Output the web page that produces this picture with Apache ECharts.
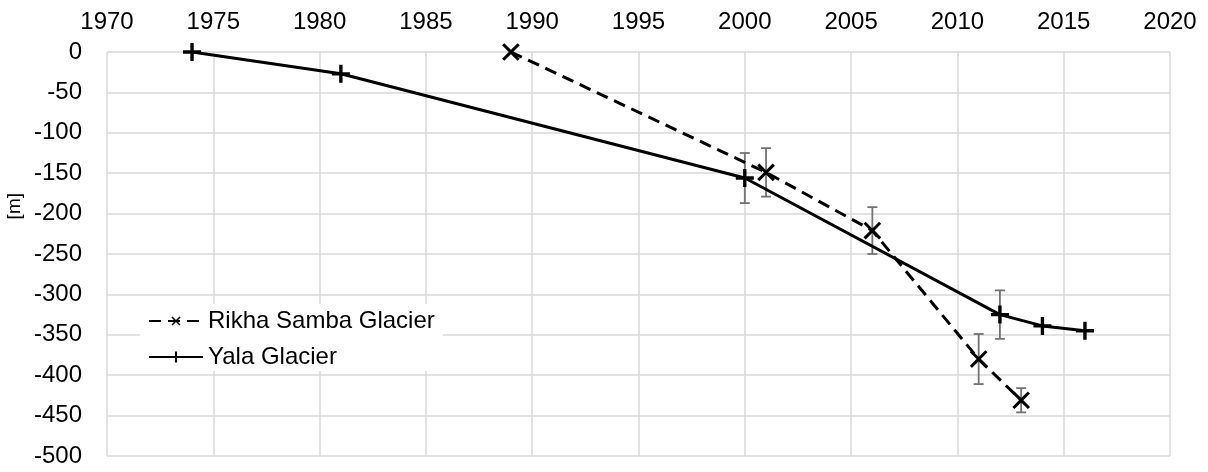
<!DOCTYPE html>
<html>
<head>
<meta charset="utf-8">
<script src="https://cdn.jsdelivr.net/npm/echarts@6/dist/echarts.min.js"></script>
<style>
html,body{margin:0;padding:0;background:#fff;}
#chart{width:1208px;height:472px;}
</style>
</head>
<body>
<div id="chart"></div>
<script>
// ---- data ----
const yalaName = 'Yala Glacier';
const yalaYears = [1974, 1981, 2000, 2012, 2014, 2016];
const yalaValues = [0, -27, -156, -325, -339, -345];
const yalaErr = [0, 0, 31, 30, 0, 0];

const rikhaName = 'Rikha Samba Glacier';
const rikhaYears = [1989, 2001, 2006, 2011, 2013];
const rikhaValues = [0, -149, -221, -380, -431];
const rikhaErr = [0, 30, 29, 31, 15];

const xMin = 1970, xMax = 2020, xStep = 5;
const yMin = -500, yMax = 0, yStep = 50;
const yAxisTitle = '[m]';

// ---- build ----
const FONT = '"Liberation Sans", Arial, sans-serif';
const plusPath = 'path://M6.5,0 H9.5 V6.5 H16 V9.5 H9.5 V16 H6.5 V9.5 H0 V6.5 H6.5 Z';
const crossPath = 'path://M6.9,0 H9.1 V6.9 H16 V9.1 H9.1 V16 H6.9 V9.1 H0 V6.9 H6.9 Z';

function pairs(xs, ys) { return xs.map((x, i) => [x, ys[i]]); }
function errData(xs, ys, es) {
  const out = [];
  xs.forEach((x, i) => { if (es[i] > 0) out.push([x, ys[i], es[i]]); });
  return out;
}

function renderErr(params, api) {
  const x = api.value(0), y = api.value(1), e = api.value(2);
  const top = api.coord([x, y + e]);
  const bot = api.coord([x, y - e]);
  const cap = 5;
  const style = { stroke: '#737373', lineWidth: 1.8 };
  return {
    type: 'group',
    children: [
      { type: 'line', shape: { x1: top[0], y1: top[1], x2: bot[0], y2: bot[1] }, style },
      { type: 'line', shape: { x1: top[0] - cap, y1: top[1], x2: top[0] + cap, y2: top[1] }, style },
      { type: 'line', shape: { x1: bot[0] - cap, y1: bot[1], x2: bot[0] + cap, y2: bot[1] }, style }
    ]
  };
}

const chart = echarts.init(document.getElementById('chart'), null, { renderer: 'canvas' });
chart.setOption({
  animation: false,
  backgroundColor: '#fff',
  textStyle: { fontFamily: FONT },
  grid: { left: 107, right: 38, top: 52, bottom: 16, containLabel: false },
  graphic: [{
    type: 'text', left: 5, top: 193, rotation: Math.PI / 2,
    style: { text: yAxisTitle, font: '19px "Liberation Sans", Arial, sans-serif', fill: '#000' }
  }],
  legend: {
    orient: 'vertical', left: 140, top: 304,
    padding: [5, 8, 2, 8],
    backgroundColor: '#fff',
    itemWidth: 54, itemHeight: 14, itemGap: 12,
    textStyle: { fontSize: 24, color: '#000', fontFamily: FONT },
    data: [rikhaName, yalaName]
  },
  xAxis: {
    type: 'value', position: 'top', min: xMin, max: xMax, interval: xStep,
    axisLine: { show: false }, axisTick: { show: false },
    axisLabel: { fontSize: 24, color: '#000', margin: 18, fontFamily: FONT, formatter: v => String(v) },
    splitLine: { show: true, lineStyle: { color: '#d9d9d9', width: 1.5 } }
  },
  yAxis: {
    type: 'value', min: yMin, max: yMax, interval: yStep,
    axisLine: { show: false }, axisTick: { show: false },
    axisLabel: { fontSize: 24, color: '#000', margin: 25, fontFamily: FONT, formatter: v => String(v) },
    splitLine: { show: true, lineStyle: { color: '#d9d9d9', width: 1.5 } }
  },
  series: [
    {
      type: 'custom', name: 'errR', renderItem: renderErr, z: 1,
      data: errData(rikhaYears, rikhaValues, rikhaErr), silent: true
    },
    {
      type: 'custom', name: 'errY', renderItem: renderErr, z: 1,
      data: errData(yalaYears, yalaValues, yalaErr), silent: true
    },
    {
      name: rikhaName, type: 'line', data: pairs(rikhaYears, rikhaValues), z: 3,
      symbol: crossPath, symbolSize: 22, symbolRotate: 45, showAllSymbol: true,
      lineStyle: { color: '#000', width: 3, type: [12, 7] },
      itemStyle: { color: '#000' }
    },
    {
      name: yalaName, type: 'line', data: pairs(yalaYears, yalaValues), z: 3,
      symbol: plusPath, symbolSize: 18, showAllSymbol: true,
      lineStyle: { color: '#000', width: 3 },
      itemStyle: { color: '#000' }
    }
  ]
});
</script>
</body>
</html>
